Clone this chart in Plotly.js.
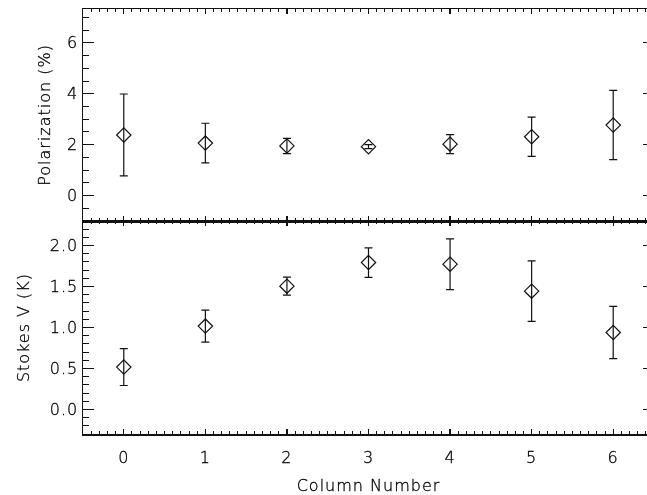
<!DOCTYPE html>
<html>
<head>
<meta charset="utf-8">
<script src="https://cdn.plot.ly/plotly-3.0.1.min.js"></script>
<style>
html, body { margin: 0; padding: 0; overflow: hidden; background: #fff; }
#chart { width: 656px; height: 495px; will-change: transform; }
#chart text { letter-spacing: 1px; stroke: #000; stroke-width: 0.3px; }
</style>
</head>
<body>
<div id="chart"></div>
<script>
// Data
const columns = [0, 1, 2, 3, 4, 5, 6];
const polarization = [2.38, 2.06, 1.95, 1.92, 2.02, 2.31, 2.77];
const polarizationErr = [1.61, 0.78, 0.30, 0.08, 0.37, 0.77, 1.36];
const stokesV = [0.517, 1.017, 1.505, 1.793, 1.773, 1.444, 0.939];
const stokesVErr = [0.225, 0.195, 0.11, 0.18, 0.31, 0.37, 0.32];
const xTickVals = [0, 1, 2, 3, 4, 5, 6];
const xTickText = ['0', '1', '2', '3', '4', '5', '6'];

const FONT = 'DejaVu Sans, sans-serif';
const INK = '#111';
const TXT = { family: FONT, size: 16, color: '#000', weight: 300 };

const markerStyle = { symbol: 'diamond-open', size: 11, color: INK, line: { width: 1.2, color: INK } };
const errStyle = { type: 'data', symmetric: true, width: 4, thickness: 1.2, color: INK };

const traces = [
  {
    x: columns, y: polarization, xaxis: 'x2', yaxis: 'y2', mode: 'markers', type: 'scatter',
    marker: markerStyle, error_y: Object.assign({ array: polarizationErr }, errStyle),
    showlegend: false, hoverinfo: 'skip'
  },
  {
    x: columns, y: stokesV, xaxis: 'x', yaxis: 'y', mode: 'markers', type: 'scatter',
    marker: markerStyle, error_y: Object.assign({ array: stokesVErr }, errStyle),
    showlegend: false, hoverinfo: 'skip'
  }
];

const split = 213 / 425;

const commonX = {
  range: [-0.5, 6.5], tickmode: 'array', tickvals: xTickVals, ticktext: xTickText,
  ticks: 'inside', ticklen: 5, tickwidth: 1.2, tickcolor: INK,
  showline: true, linecolor: INK, linewidth: 1.5, mirror: 'ticks',
  showgrid: false, zeroline: false,
  minor: { dtick: 0.1, tick0: 0, ticks: 'inside', ticklen: 3, tickwidth: 1, tickcolor: INK, showgrid: false },
  tickfont: TXT
};

const layout = {
  width: 656, height: 495,
  margin: { l: 83, r: 2, t: 9, b: 61 },
  paper_bgcolor: '#fff', plot_bgcolor: '#fff',
  font: { family: FONT, color: '#000' },
  xaxis: Object.assign({}, commonX, {
    anchor: 'y', domain: [0, 1], ticklabelstandoff: 8,
    title: { text: 'Column Number', font: TXT, standoff: 14 }
  }),
  xaxis2: Object.assign({}, commonX, {
    anchor: 'y2', domain: [0, 1], matches: 'x', showticklabels: false
  }),
  yaxis: {
    anchor: 'x', domain: [0, split], range: [-0.3, 2.3],
    tickmode: 'linear', tick0: 0, dtick: 0.5, tickformat: '.1f',
    ticks: 'inside', ticklen: 11, tickwidth: 1.2, tickcolor: INK,
    showline: true, linecolor: INK, linewidth: 1.5, mirror: 'ticks',
    showgrid: false, zeroline: false,
    minor: { dtick: 0.1, ticks: 'inside', ticklen: 6, tickwidth: 1, tickcolor: INK, showgrid: false },
    tickfont: TXT,
    title: { text: 'Stokes V (K)', font: TXT, standoff: 19 }
  },
  yaxis2: {
    anchor: 'x2', domain: [split, 1], range: [-1, 7.33],
    tickmode: 'linear', tick0: 0, dtick: 2,
    ticks: 'inside', ticklen: 11, tickwidth: 1.2, tickcolor: INK,
    showline: true, linecolor: INK, linewidth: 1.5, mirror: 'ticks',
    showgrid: false, zeroline: false,
    minor: { dtick: 0.5, ticks: 'inside', ticklen: 6, tickwidth: 1, tickcolor: INK, showgrid: false },
    tickfont: TXT,
    title: { text: 'Polarization (%)', font: TXT, standoff: 13 }
  }
};

Plotly.newPlot('chart', traces, layout, { staticPlot: true, displayModeBar: false });
</script>
</body>
</html>
